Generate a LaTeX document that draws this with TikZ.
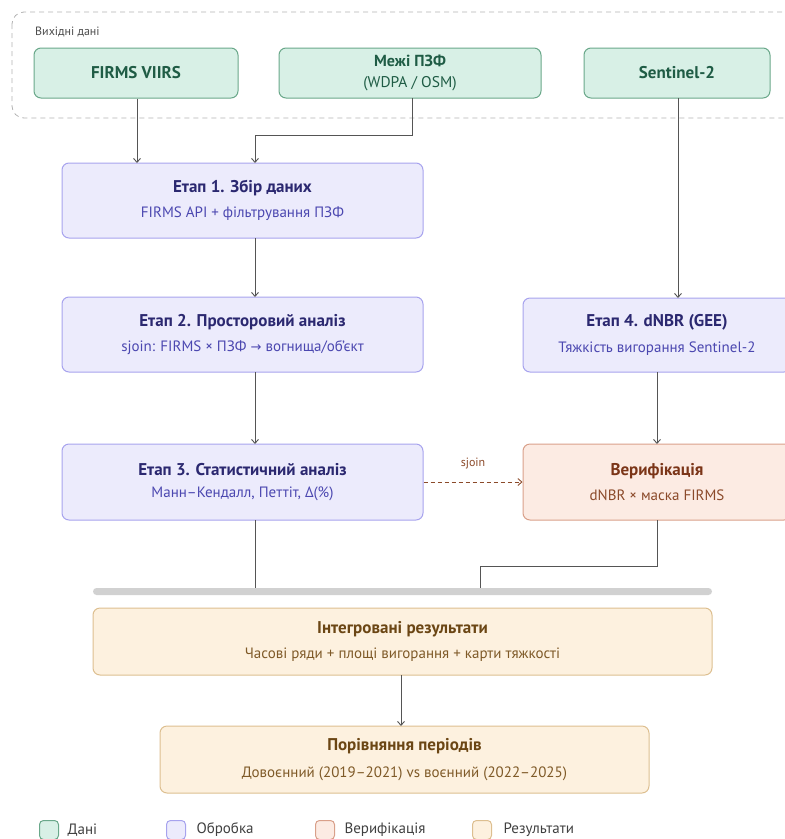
\documentclass[tikz,border=0pt]{standalone}
\usepackage{fontspec}
\setmainfont{PT Sans}
\newfontfamily\dejavu{DejaVu Sans}
\usetikzlibrary{arrows.meta,calc}
\definecolor{gfill}{HTML}{D8F0E6}\definecolor{gdraw}{HTML}{6AA88A}\definecolor{gtext}{HTML}{1F5C45}
\definecolor{pfill}{HTML}{ECEBFC}\definecolor{pdraw}{HTML}{A7A3EE}\definecolor{ptext}{HTML}{2B2870}\definecolor{psub}{HTML}{4B47B0}
\definecolor{rfill}{HTML}{FCEBE3}\definecolor{rdraw}{HTML}{D9A08A}\definecolor{rtext}{HTML}{7B3518}\definecolor{rsub}{HTML}{8B4A2A}
\definecolor{ofill}{HTML}{FDF1DF}\definecolor{odraw}{HTML}{DDBF90}\definecolor{otext}{HTML}{6B4614}\definecolor{osub}{HTML}{7F5A28}
\definecolor{lin}{HTML}{555555}
\tikzset{
  x=1pt,y=-1pt,
  box/.style={rounded corners=7pt,line width=1pt,align=center,inner sep=0pt},
  databox/.style={box,fill=gfill,draw=gdraw,text=gtext,font=\bfseries\fontsize{17}{19}\selectfont},
  procbox/.style={box,fill=pfill,draw=pdraw,text=ptext},
  verbox/.style={box,fill=rfill,draw=rdraw,text=rtext},
  resbox/.style={box,fill=ofill,draw=odraw,text=otext},
  conn/.style={draw=lin,line width=0.9pt,-{Straight Barb[length=4pt,width=7pt]}},
  plain/.style={draw=lin,line width=0.9pt},
  legsq/.style={rounded corners=4pt,line width=1pt,minimum width=19pt,minimum height=19pt,inner sep=0pt},
  legtx/.style={anchor=west,text=black!75,font=\fontsize{15}{17}\selectfont}
}
\newcommand{\ttl}[1]{{\bfseries\fontsize{17}{19}\selectfont #1}}
\newcommand{\sbt}[2]{{\color{#1}\fontsize{15}{17}\selectfont #2}}
\begin{document}
\begin{tikzpicture}
\useasboundingbox (0,0) rectangle (785,839);
% group
\draw[draw=black!30,line width=0.8pt,dash pattern=on 5pt off 4pt,rounded corners=12pt] (12,12) rectangle (800,118);
\node[anchor=west,text=black!70,font=\fontsize{12}{14}\selectfont,inner sep=0pt] (grp) at (35,32) {Вихідні дані};
% data
\node[databox,minimum width=204pt,minimum height=50pt] (firms) at (136,73) {FIRMS VIIRS};
\node[databox,minimum width=262pt,minimum height=50pt] (mezhi) at (410,73) {\fontsize{16}{18}\selectfont Межі ПЗФ\\[2pt]{\mdseries\fontsize{15.5}{17}\selectfont (WDPA / OSM)}};
\node[databox,minimum width=186pt,minimum height=50pt] (sent) at (677,73) {Sentinel-2};
% stages
\node[procbox,minimum width=361pt,minimum height=75pt] (s1) at (242.5,200.5) {\ttl{Етап 1. Збір даних}\\[10pt]\sbt{psub}{FIRMS API + фільтрування ПЗФ}};
\node[procbox,minimum width=361pt,minimum height=75pt] (s2) at (242.5,334.5) {\ttl{Етап 2. Просторовий аналіз}\\[10pt]\sbt{psub}{sjoin: FIRMS × ПЗФ {\dejavu\fontsize{13}{15}\selectfont →} вогнища/об’єкт}};
\node[procbox,minimum width=361pt,minimum height=76pt] (s3) at (242.5,482) {\ttl{Етап 3. Статистичний аналіз}\\[10pt]\sbt{psub}{Манн–Кендалл, Петтіт, Δ(\%)}};
\node[procbox,minimum width=268pt,minimum height=74pt] (s4) at (657,335) {\ttl{Етап 4. dNBR (GEE)}\\[10pt]\sbt{psub}{Тяжкість вигорання Sentinel-2}};
\node[verbox,minimum width=268pt,minimum height=76pt] (ver) at (657,482) {\ttl{Верифікація}\\[10pt]\sbt{rsub}{dNBR × маска FIRMS}};
% bar
\node[fill=black!18,rounded corners=3.5pt,minimum width=619pt,minimum height=7pt,inner sep=0pt] (bar) at (402.5,591.5) {};
% results
\node[resbox,minimum width=619pt,minimum height=67pt] (integ) at (402.5,641.5) {\ttl{Інтегровані результати}\\[10pt]\sbt{osub}{Часові ряди + площі вигорання + карти тяжкості}};
\node[resbox,minimum width=489pt,minimum height=67pt] (cmp) at (404.5,759.5) {\ttl{Порівняння періодів}\\[12pt]\sbt{osub}{Довоєнний (2019–2021) vs воєнний (2022–2025)}};
% connectors
\coordinate (s1a) at (137,163);
\coordinate (s1b) at (255,163);
\coordinate (mz1) at (412,98);
\coordinate (mz2) at (412,135);
\coordinate (s2in) at (255,297);
\coordinate (s1out) at (255,238);
\coordinate (s2out) at (255,372);
\coordinate (s3in) at (255,444);
\coordinate (s3out) at (255,520);
\coordinate (b1) at (255,588);
\coordinate (v1) at (657,520);
\coordinate (v2) at (657,566);
\coordinate (b2) at (480,588);
\coordinate (se1) at (678,98);
\coordinate (s4in) at (678,298);
\coordinate (s4out) at (657,372);
\coordinate (vin) at (657,444);
\coordinate (i1) at (401,675);
\coordinate (c1) at (401,726);
\draw[conn] (firms.south -| s1a) -- (s1a);
\draw[conn] (mz1) -- (mz2) -| (s1b);
\draw[conn] (s1out) -- (s2in);
\draw[conn] (s2out) -- (s3in);
\draw[conn] (se1) -- (s4in);
\draw[conn] (s4out) -- (vin);
\draw[plain] (s3out) -- (b1);
\draw[plain] (v1) -- (v2) -| (b2);
\draw[conn] (i1) -- (c1);
\draw[draw=rsub,line width=0.9pt,dash pattern=on 4pt off 3pt,-{Straight Barb[length=4pt,width=7pt]}] (s3.east) -- (ver.west) node[midway,above=9pt,text=rsub,font=\fontsize{12}{14}\selectfont] (lbl) {sjoin};
% legend
\node[legsq,fill=gfill,draw=gdraw] (lg1) at (49,830) {};
\node[legtx] (lt1) at (64,830) {Дані};
\node[legsq,fill=pfill,draw=pdraw] (lg2) at (176,830) {};
\node[legtx] (lt2) at (193,830) {Обробка};
\node[legsq,fill=rfill,draw=rdraw] (lg3) at (325,830) {};
\node[legtx] (lt3) at (341,830) {Верифікація};
\node[legsq,fill=ofill,draw=odraw] (lg4) at (482,830) {};
\node[legtx] (lt4) at (500,830) {Результати};
\end{tikzpicture}
\end{document}
